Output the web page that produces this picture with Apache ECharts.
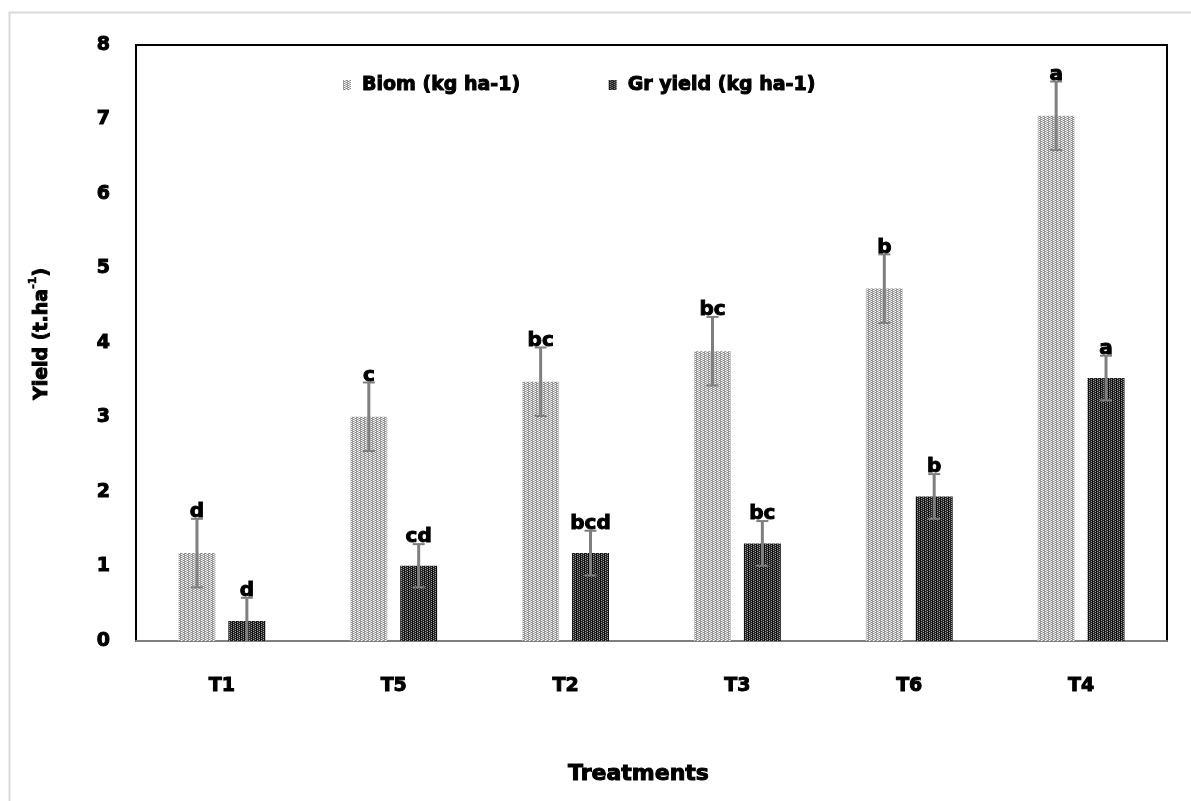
<!DOCTYPE html>
<html>
<head>
<meta charset="utf-8">
<script src="https://cdn.jsdelivr.net/npm/echarts@6/dist/echarts.min.js"></script>
<style>html,body{margin:0;padding:0;background:#fff}#c{width:1191px;height:801px}</style>
</head>
<body>
<div id="c"></div>
<script>
const categories = ['T1', 'T5', 'T2', 'T3', 'T6', 'T4'];
const biomValues = [1.18, 3.01, 3.48, 3.89, 4.73, 7.05];
const biomErrors = [0.46, 0.46, 0.46, 0.46, 0.46, 0.46];
const biomLetters = ['d', 'c', 'bc', 'bc', 'b', 'a'];
const grValues = [0.27, 1.01, 1.18, 1.31, 1.94, 3.53];
const grErrors = [0.31, 0.29, 0.30, 0.30, 0.30, 0.30];
const grLetters = ['d', 'cd', 'bcd', 'bc', 'b', 'a'];
const yTicks = [0, 1, 2, 3, 4, 5, 6, 7, 8];

function makePattern(cols) {
  const c = document.createElement('canvas');
  c.width = cols.length; c.height = 2;
  const ctx = c.getContext('2d');
  cols.forEach((pair, x) => {
    ctx.fillStyle = pair[0]; ctx.fillRect(x, 0, 1, 1);
    ctx.fillStyle = pair[1]; ctx.fillRect(x, 1, 1, 1);
  });
  return c;
}
const biomPattern = makePattern([['#9a9a9a', '#9a9a9a'], ['#ffffff', '#8a8a8a'], ['#c8c8c8', '#c8c8c8'], ['#8a8a8a', '#ffffff']]);
const grPattern = makePattern([['#111111', '#111111'], ['#9a9a9a', '#222222'], ['#2a2a2a', '#2a2a2a'], ['#222222', '#9a9a9a']]);

const FONT = 'DejaVu Sans';
const BAR_W = 0.215, BAR_GAP = 0.35;
const centerOff = (BAR_W + BAR_GAP * BAR_W) / 2;
const heavy = { fontFamily: FONT, fontWeight: 'bold', color: '#000', textBorderColor: '#000', textBorderWidth: 1 };

function errSeries(values, errors, letters, side) {
  return {
    type: 'custom',
    z: 5,
    silent: true,
    data: values.map((v, i) => [i, v, errors[i]]),
    renderItem: function (params, api) {
      const i = api.value(0), m = api.value(1), e = api.value(2);
      const band = api.size([1, 0])[0];
      const low = Math.max(0, m - e);
      const top = api.coord([i, m + e]);
      const bot = api.coord([i, low]);
      const x = top[0] + side * centerOff * band;
      const cap = 6;
      const capStyle = { stroke: '#7f7f7f', lineWidth: 2 };
      const children = [
        { type: 'line', shape: { x1: x, y1: top[1], x2: x, y2: bot[1] }, style: { stroke: '#7f7f7f', lineWidth: 3 } },
        { type: 'line', shape: { x1: x - cap, y1: top[1], x2: x + cap, y2: top[1] }, style: capStyle }
      ];
      if (low > 0) {
        children.push({ type: 'line', shape: { x1: x - cap, y1: bot[1], x2: x + cap, y2: bot[1] }, style: capStyle });
      }
      children.push({
        type: 'text', x: x, y: top[1] + 3,
        style: { text: letters[params.dataIndex], fill: '#000', stroke: '#000', lineWidth: 1,
          font: 'bold 20px "' + FONT + '"', align: 'center', verticalAlign: 'bottom' }
      });
      return { type: 'group', children: children };
    }
  };
}

const chart = echarts.init(document.getElementById('c'), null, { renderer: 'canvas' });
chart.setOption({
  animation: false,
  backgroundColor: '#fff',
  graphic: [{
    type: 'rect', left: 7, top: 10, silent: true, z: -10,
    shape: { width: 1300, height: 900 },
    style: { fill: 'none', stroke: '#d9d9d9', lineWidth: 2 }
  }],
  grid: { left: 136, top: 45, right: 24, bottom: 160, show: true, borderColor: '#000', borderWidth: 2, backgroundColor: 'transparent' },
  legend: {
    top: 70, left: 338, itemGap: 88, itemWidth: 8, itemHeight: 10,
    textStyle: Object.assign({}, heavy, { fontSize: 19, padding: [0, 0, 0, 6] }),
    data: [
      { name: 'Biom (kg ha-1)', icon: 'rect' },
      { name: 'Gr yield (kg ha-1)', icon: 'rect' }
    ]
  },
  xAxis: {
    type: 'category', data: categories,
    name: 'Treatments', nameLocation: 'middle', nameGap: 122,
    nameTextStyle: Object.assign({}, heavy, { fontSize: 22, padding: [0, 26, 0, 0] }),
    axisLine: { show: true, lineStyle: { color: '#7f7f7f', width: 2 } },
    axisTick: { show: false },
    axisLabel: Object.assign({ margin: 36 }, heavy, { fontSize: 19 })
  },
  yAxis: {
    type: 'value', min: yTicks[0], max: yTicks[yTicks.length - 1], interval: 1,
    name: '{a|Yield (t.ha}{s|-1}{a|)}', nameLocation: 'middle', nameGap: 84,
    nameTextStyle: {
      padding: [0, 0, 0, 18],
      rich: {
        a: Object.assign({}, heavy, { fontSize: 19, lineHeight: 24, verticalAlign: 'bottom' }),
        s: Object.assign({}, heavy, { fontSize: 11, textBorderWidth: 0.5, lineHeight: 24, verticalAlign: 'top' })
      }
    },
    axisLine: { show: true, lineStyle: { color: '#000', width: 2 } },
    axisTick: { show: false },
    splitLine: { show: false },
    axisLabel: Object.assign({ margin: 26 }, heavy, { fontSize: 19 })
  },
  series: [
    {
      name: 'Biom (kg ha-1)', type: 'bar', data: biomValues,
      barWidth: (BAR_W * 100) + '%', barGap: (BAR_GAP * 100) + '%',
      itemStyle: { color: { image: biomPattern, repeat: 'repeat' } }
    },
    {
      name: 'Gr yield (kg ha-1)', type: 'bar', data: grValues,
      barWidth: (BAR_W * 100) + '%', barGap: (BAR_GAP * 100) + '%',
      itemStyle: { color: { image: grPattern, repeat: 'repeat' } }
    },
    errSeries(biomValues, biomErrors, biomLetters, -1),
    errSeries(grValues, grErrors, grLetters, 1)
  ]
});
</script>
</body>
</html>
